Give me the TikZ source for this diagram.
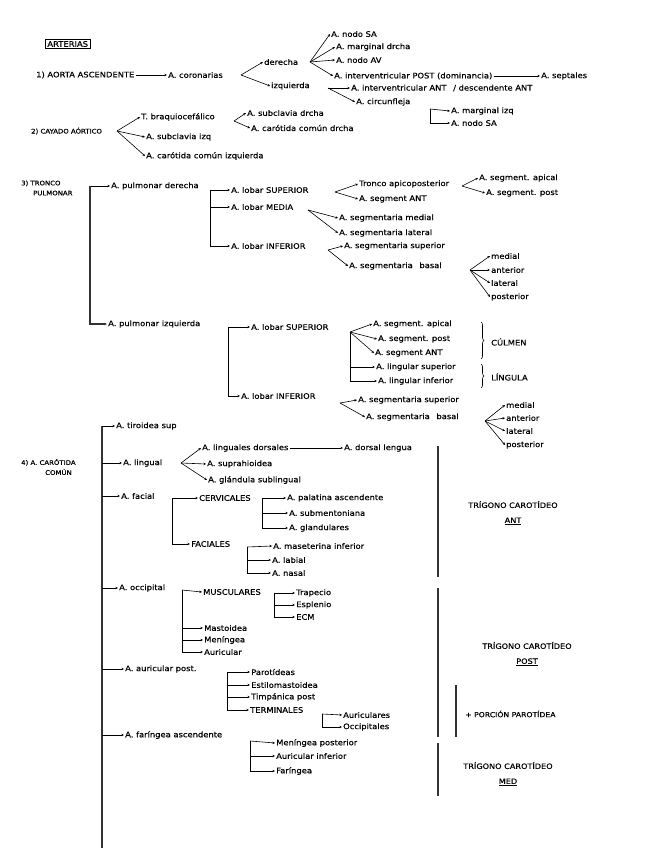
\documentclass[tikz,border=0pt]{standalone}
\usepackage{fontspec}
\setmainfont{DejaVu Sans}[FakeStretch=1.1, FakeBold=0.5]
\usepackage{tikz}
\usetikzlibrary{arrows.meta, positioning, calc, decorations.pathreplacing}

\begin{document}
\begin{tikzpicture}[
    x=1pt, y=-1pt,
    item/.style={anchor=west, inner sep=1pt, font=\fontsize{7.6}{9}\selectfont},
    note/.style={anchor=west, inner sep=1pt, align=left, font=\fontsize{6.3}{10}\selectfont},
    head/.style={item, draw, thick, inner sep=2pt},
    zone/.style={align=center, inner sep=1pt, font=\fontsize{7.4}{15}\selectfont},
    arrow/.style={-{Stealth[length=2.6pt, width=2.4pt]}, line width=0.6pt},
    stem/.style={line width=1.1pt, draw=black!80},
    brc/.style={decorate, decoration={brace, amplitude=3pt}, line width=0.6pt}
]
\useasboundingbox (0,0) rectangle (656,848);

% 1) aorta ascendente
\node[head] (arterias) at (45,44) {ARTERIAS};
\node[item] (aorta) at (35,75) {1) AORTA ASCENDENTE};
\node[item] (coron) at (167,75) {A. coronarias};
\draw[arrow] (aorta) -- (coron);

\coordinate (coronV) at (241,75);
\node[item] (dcha) at (263,62) {derecha};
\node[item] (izq) at (270,86) {izquierda};
\draw[arrow] (coronV) -- (dcha.west);
\draw[arrow] (coronV) -- (izq.west);

\coordinate (dchaV) at (310,62);
\node[item] (sa) at (330,34) {A. nodo SA};
\node[item] (mdcha) at (335,47) {A. marginal drcha};
\node[item] (av) at (335,60) {A. nodo AV};
\node[item] (ivpost) at (333,76) {A. interventricular POST (dominancia)};
\node[item] (sept) at (540,76) {A. septales};
\draw[arrow] (dchaV) -- (sa.west);
\draw[arrow] (dchaV) -- (mdcha.west);
\draw[arrow] (dchaV) -- (av.west);
\draw[arrow] (dchaV) -- (ivpost.west);
\draw[arrow] (ivpost) -- (sept);

\coordinate (izqV) at (328,88);
\node[item] (ivant) at (350,88) {A. interventricular ANT \hspace{4pt}/ descendente ANT};
\node[item] (circ) at (355,102) {A. circunfleja};
\draw[arrow] (izqV) -- (ivant.west);
\draw[arrow] (izqV) -- (circ.west);

\coordinate (circB) at (430,109);
\node[item] (mizq) at (450,111) {A. marginal izq};
\node[item] (sa2) at (450,123) {A. nodo SA};
\draw[arrow] (circB) -- (mizq.west);
\draw[arrow] (circB) |- (sa2.west);

% 2) cayado aortico
\node[note] (cayado) at (30,131) {2) CAYADO AÓRTICO};
\coordinate (cayV) at (117,131);
\node[item] (braq) at (140,117) {T. braquiocefálico};
\node[item] (sclI) at (145,137) {A. subclavia izq};
\node[item] (carI) at (145,156) {A. carótida común izquierda};
\draw[arrow] (cayV) -- (braq.west);
\draw[arrow] (cayV) -- (sclI.west);
\draw[arrow] (cayV) -- (carI.west);

\coordinate (braqV) at (234,121);
\node[item] (sclD) at (246,113) {A. subclavia drcha};
\node[item] (carD) at (250,128) {A. carótida común drcha};
\draw[arrow] (braqV) -- (sclD.west);
\draw[arrow] (braqV) -- (carD.west);

% 3) tronco pulmonar
\node[note] (tronco) at (20,188) {3) TRONCO\\\hspace{12pt}PULMONAR};
\coordinate (tpT) at (90,186);
\node[item] (pdcha) at (110,186) {A. pulmonar derecha};
\node[item] (pizq) at (107,324) {A. pulmonar izquierda};
\draw[arrow] (tpT) -- (pdcha.west);
\draw[arrow, stem] (tpT) |- (pizq.west);

\coordinate (pdchaB) at (210,190);
\node[item] (lsupD) at (230,190) {A. lobar SUPERIOR};
\node[item] (lmedD) at (230,207) {A. lobar MEDIA};
\node[item] (linfD) at (230,246) {A. lobar INFERIOR};
\draw[arrow] (pdchaB) -- (lsupD.west);
\draw[arrow] (pdchaB) |- (lmedD.west);
\draw[arrow] (pdchaB) |- (linfD.west);

\coordinate (lsupDV) at (335,192);
\node[item] (tap) at (358,184) {Tronco apicoposterior};
\node[item] (sant) at (358,199) {A. segment ANT};
\draw[arrow] (lsupDV) -- (tap.west);
\draw[arrow] (lsupDV) -- (sant.west);

\coordinate (tapV) at (462,186);
\node[item] (sapi) at (478,178) {A. segment. apical};
\node[item] (spost) at (485,193) {A. segment. post};
\draw[arrow] (tapV) -- (sapi.west);
\draw[arrow] (tapV) -- (spost.west);

\coordinate (lmedDV) at (308,210);
\node[item] (smed) at (338,218) {A. segmentaria medial};
\node[item] (slat) at (338,233) {A. segmentaria lateral};
\draw[arrow] (lmedDV) -- (smed.west);
\draw[arrow] (lmedDV) -- (slat.west);

\coordinate (linfDV) at (328,250);
\node[item] (ssup) at (343,246) {A. segmentaria superior};
\node[item] (sbas) at (348,266) {A. segmentaria \hspace{4pt}basal};
\draw[arrow] (linfDV) -- (ssup.west);
\draw[arrow] (linfDV) -- (sbas.west);

\coordinate (sbasV) at (470,270);
\node[item] (bmed) at (490,256) {medial};
\node[item] (bant) at (490,270) {anterior};
\node[item] (blat) at (490,283) {lateral};
\node[item] (bpos) at (490,297) {posterior};
\draw[arrow] (sbasV) -- (bmed.west);
\draw[arrow] (sbasV) -- (bant.west);
\draw[arrow] (sbasV) -- (blat.west);
\draw[arrow] (sbasV) -- (bpos.west);

\coordinate (pizqB) at (228,327);
\node[item] (lsupI) at (250,327) {A. lobar SUPERIOR};
\node[item] (linfI) at (240,396) {A. lobar INFERIOR};
\draw[arrow] (pizqB) -- (lsupI.west);
\draw[arrow] (pizqB) |- (linfI.west);

\coordinate (lsupIV) at (350,332);
\node[item] (sapiI) at (372,324) {A. segment. apical};
\node[item] (spostI) at (377,339) {A. segment. post};
\node[item] (santI) at (374,353) {A. segment ANT};
\node[item] (lingS) at (375,367) {A. lingular superior};
\node[item] (lingI) at (377,381) {A. lingular inferior};
\draw[arrow] (lsupIV) -- (sapiI.west);
\draw[arrow] (lsupIV) -- (spostI.west);
\draw[arrow] (lsupIV) -- (santI.west);
\draw[arrow] (lsupIV) |- (lingS.west);
\draw[arrow] (lsupIV) |- (lingI.west);

\draw[brc] (481,322) -- (481,359);
\node[item] (culmen) at (490,342) {CÚLMEN};
\draw[brc] (481,364) -- (481,388);
\node[item] (lingula) at (490,377) {LÍNGULA};

\coordinate (linfIV) at (340,403);
\node[item] (ssupI) at (357,400) {A. segmentaria superior};
\node[item] (sbasI) at (365,417) {A. segmentaria \hspace{4pt}basal};
\draw[arrow] (linfIV) -- (ssupI.west);
\draw[arrow] (linfIV) -- (sbasI.west);

\coordinate (sbasIV) at (485,421);
\node[item] (bmedI) at (505,405) {medial};
\node[item] (bantI) at (505,418) {anterior};
\node[item] (blatI) at (505,431) {lateral};
\node[item] (bposI) at (505,445) {posterior};
\draw[arrow] (sbasIV) -- (bmedI.west);
\draw[arrow] (sbasIV) -- (bantI.west);
\draw[arrow] (sbasIV) -- (blatI.west);
\draw[arrow] (sbasIV) -- (bposI.west);

% 4) carotida comun
\node[note] (carotida) at (20,467) {4) A. CARÓTIDA\\\hspace{24pt}COMÚN};
\coordinate (ccT) at (102,426);
\coordinate (ccB) at (102,848);
\draw[stem] (ccT) -- (ccB);
\node[item] (tiroid) at (115,426) {A. tiroidea sup};
\node[item] (lingual) at (122,463) {A. lingual};
\node[item] (facial) at (120,496) {A. facial};
\node[item] (occip) at (118,588) {A. occipital};
\node[item] (aurp) at (124,669) {A. auricular post.};
\node[item] (farA) at (124,735) {A. faríngea ascendente};
\draw[arrow] (ccT) -- (tiroid.west);
\draw[arrow] (lingual.west -| ccT) -- (lingual.west);
\draw[arrow] (facial.west -| ccT) -- (facial.west);
\draw[arrow] (occip.west -| ccT) -- (occip.west);
\draw[arrow] (aurp.west -| ccT) -- (aurp.west);
\draw[arrow] (farA.west -| ccT) -- (farA.west);

\coordinate (lingV) at (181,463);
\node[item] (lingD) at (201,448) {A. linguales dorsales};
\node[item] (dlen) at (343,448) {A. dorsal lengua};
\node[item] (supra) at (206,464) {A. suprahioidea};
\node[item] (sublin) at (207,480) {A. glándula sublingual};
\draw[arrow] (lingV) -- (lingD.west);
\draw[arrow] (lingV) -- (supra.west);
\draw[arrow] (lingV) -- (sublin.west);
\draw[arrow] (lingD) -- (dlen);

\coordinate (facB) at (172,498);
\node[item] (cerv) at (198,498) {CERVICALES};
\node[item] (faci) at (190,544) {FACIALES};
\draw[arrow] (facB) -- (cerv.west);
\draw[arrow] (facB) |- (faci.west);

\coordinate (cervB) at (262,498);
\node[item] (palat) at (286,498) {A. palatina ascendente};
\node[item] (subm) at (288,513) {A. submentoniana};
\node[item] (gland) at (288,528) {A. glandulares};
\draw[arrow] (cervB) -- (palat.west);
\draw[arrow] (cervB) |- (subm.west);
\draw[arrow] (cervB) |- (gland.west);

\coordinate (faciB) at (247,547);
\node[item] (maset) at (272,546) {A. maseterina inferior};
\node[item] (labial) at (271,560) {A. labial};
\node[item] (nasal) at (271,573) {A. nasal};
\draw[arrow] (faciB) -- (maset.west);
\draw[arrow] (faciB) |- (labial.west);
\draw[arrow] (faciB) |- (nasal.west);

\coordinate (occB) at (182,590);
\node[item] (musc) at (202,592) {MUSCULARES};
\node[item] (mast) at (203,628) {Mastoidea};
\node[item] (menin) at (203,640) {Meníngea};
\node[item] (auric) at (203,652) {Auricular};
\draw[arrow] (occB) -- (musc.west);
\draw[arrow] (occB) |- (mast.west);
\draw[arrow] (occB) |- (menin.west);
\draw[arrow] (occB) |- (auric.west);

\coordinate (muscB) at (274,593);
\node[item] (trap) at (295,593) {Trapecio};
\node[item] (esple) at (295,605) {Esplenio};
\node[item] (ecm) at (295,617) {ECM};
\draw[arrow] (muscB) -- (trap.west);
\draw[arrow] (muscB) |- (esple.west);
\draw[arrow] (muscB) |- (ecm.west);

\coordinate (aurpB) at (227,672);
\node[item] (parot) at (250,672) {Parotídeas};
\node[item] (estil) at (250,685) {Estilomastoidea};
\node[item] (timp) at (250,697) {Timpánica post};
\node[item] (term) at (249,710) {TERMINALES};
\draw[arrow] (aurpB) -- (parot.west);
\draw[arrow] (aurpB) |- (estil.west);
\draw[arrow] (aurpB) |- (timp.west);
\draw[arrow] (aurpB) |- (term.west);

\coordinate (termB) at (322,714);
\node[item] (auricT) at (342,715) {Auriculares};
\node[item] (occT) at (342,727) {Occipitales};
\draw[arrow] (termB) -- (auricT.west);
\draw[arrow] (termB) |- (occT.west);

\coordinate (farB) at (250,741);
\node[item] (meninP) at (275,743) {Meníngea posterior};
\node[item] (auriI) at (275,756) {Auricular inferior};
\node[item] (faring) at (275,771) {Faríngea};
\draw[arrow] (farB) -- (meninP.west);
\draw[arrow] (farB) |- (auriI.west);
\draw[arrow] (farB) |- (faring.west);

% trigonos carotideos
\coordinate (antT) at (438,446);
\coordinate (antB) at (438,577);
\draw[stem] (antT) -- (antB);
\node[zone] (triAnt) at (513,513) {TRÍGONO CAROTÍDEO\\\underline{ANT}};

\coordinate (postT) at (438,588);
\coordinate (postB) at (438,737);
\draw[stem] (postT) -- (postB);
\node[zone] (triPost) at (527,654) {TRÍGONO CAROTÍDEO\\\underline{POST}};

\coordinate (parT) at (456,685);
\coordinate (parB) at (456,737);
\draw[stem] (parT) -- (parB);
\node[item, font=\fontsize{7}{8}\selectfont] (parot2) at (464,714) {+ PORCIÓN PAROTÍDEA};

\coordinate (medT) at (438,743);
\coordinate (medB) at (438,796);
\draw[stem] (medT) -- (medB);
\node[zone] (triMed) at (508,774) {TRÍGONO CAROTÍDEO\\\underline{MED}};

\end{tikzpicture}
\end{document}
